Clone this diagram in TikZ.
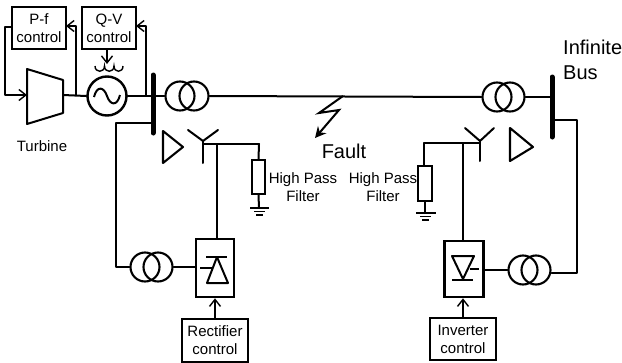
\documentclass[tikz,border=0pt]{standalone}
\usepackage{fontspec}
\setmainfont{Liberation Sans}
\usetikzlibrary{arrows.meta}
\tikzset{
  wire/.style={line width=2pt,line cap=round,line join=round},
  ctl/.style={line width=1.4pt,line join=round},
  bar/.style={line width=5pt,line cap=round},
  ctlbox/.style={draw,line width=2pt,fill=white,inner sep=0pt,align=center,font=\fontsize{15}{18}\selectfont},
  convbox/.style={draw,line width=2.6pt,fill=none,inner sep=0pt},
  winding/.style={circle,draw,line width=2.1pt,minimum size=29pt,inner sep=0pt},
  gen/.style={circle,draw,line width=2.4pt,minimum size=39pt,inner sep=0pt},
  res/.style={draw,line width=2pt,fill=white,inner sep=0pt},
  lab/.style={inner sep=0pt,align=center,font=\fontsize{15}{18}\selectfont},
  biglab/.style={inner sep=0pt,font=\fontsize{20}{25}\selectfont},
  barb/.style={-{Straight Barb[length=7pt,width=11pt,line width=1.4pt]}},
}
\begin{document}
\begin{tikzpicture}[x=1pt,y=-1pt]
\useasboundingbox (0,0) rectangle (622,362);
% control boxes
\node[ctlbox,minimum width=54pt,minimum height=42pt] (pf) at (39,28) {P-f\\control};
\node[ctlbox,minimum width=54pt,minimum height=42pt] (qv) at (109,28) {Q-V\\control};
\node[ctlbox,minimum width=66pt,minimum height=43pt] (rc) at (215,340) {Rectifier\\control};
\node[ctlbox,minimum width=66pt,minimum height=42pt] (ic) at (463,339) {Inverter\\control};
% buses
\coordinate (b1t) at (153,75); \coordinate (b1b) at (153,133);
\coordinate (b2t) at (552,77); \coordinate (b2b) at (552,137);
\draw[bar] (b1t) -- (b1b);
\draw[bar] (b2t) -- (b2b);
% turbine
\coordinate (t1) at (27,69); \coordinate (t2) at (63,80); \coordinate (t3) at (63,113); \coordinate (t4) at (27,124);
\draw[line width=2pt,line join=round] (t1) -- (t2) -- (t3) -- (t4) -- cycle;
\coordinate (tin) at (27,95); \coordinate (tout) at (63,95);
% generator
\node[gen] (g) at (107,96) {};
\draw[line width=2pt] (94,97) .. controls (97,85) and (104,87) .. (107,96) .. controls (110,105) and (117,107) .. (120,95);
% transformers
\node[winding] (tr1a) at (180,96) {};
\node[winding] (tr1b) at (194,96) {};
\node[winding] (tr2a) at (497,97) {};
\node[winding] (tr2b) at (510,97) {};
\node[winding] (tr3a) at (145,267) {};
\node[winding] (tr3b) at (158,267) {};
\node[winding] (tr4a) at (523,270) {};
\node[winding] (tr4b) at (536,270) {};
% main wires
\draw[wire] (tout) -- (g.west);
\draw[wire] (g.east) -- (153,96);
\draw[wire] (153,96) -- (tr1a.west);
\draw[wire] (tr1b.east) -- (tr2a.west);
\draw[wire] (tr2b.east) -- (552,97);
% control loops
\coordinate (j1) at (76,95); \coordinate (j2) at (146,96);
\coordinate (c1) at (5,27); \coordinate (c2) at (5,95);
\draw[ctl,barb] (pf.west |- c1) -- (c1) -- (c2) -- (tin);
\draw[ctl,barb] (j1) -- (76,26) -- (66,26);
\draw[ctl,barb] (j2) -- (146,26) -- (136,26);
\draw[ctl,barb] (qv.south -| g.north) -- (107,64);
% exciter coil
\coordinate (k0) at (95,66); \coordinate (k1) at (104.5,66); \coordinate (k2) at (114,66); \coordinate (k3) at (123,66);
\draw[line width=1.4pt] (k0) .. controls (95,73) and (104.5,73) .. (k1) .. controls (104.5,73) and (114,73) .. (k2) .. controls (114,73) and (123,73) .. (k3);
% converters
\node[convbox,minimum width=38pt,minimum height=58pt] (rect) at (215,268) {};
\node[convbox,minimum width=39pt,minimum height=56pt] (inv) at (464,269) {};
\draw[ctl,barb] (rc.north) -- (rect.south -| rc.north);
\draw[ctl,barb] (ic.north) -- (inv.south -| ic.north);
% rectifier symbol
\draw[line width=2pt,line join=round] (217,257) -- (207,283) -- (228,283) -- cycle;
\draw[line width=2pt] (206,257) -- (227,257);
\draw[line width=1.8pt] (200,268) -- (212,268);
% inverter symbol
\draw[line width=2pt,line join=round] (452,256) -- (474,256) -- (463,279) -- cycle;
\draw[line width=2pt] (452,280) -- (473,280);
\draw[line width=1.8pt] (470,269) -- (479,269);
% left AC side
\draw[wire] (b1b |- 0,123) -- (116,123) -- (116,267) -- (tr3a.west);
\draw[wire] (tr3b.east) -- (rect.west |- tr3b.east);
% right AC side
\draw[wire] (552,120) -- (577,120) -- (577,273) -- (tr4b.east |- 0,273);
\draw[wire] (inv.east |- tr4a.west) -- (tr4a.west);
% left harmonic filter
\coordinate (yl) at (203,141);
\draw[wire] (yl) -- (203,163);
\draw[wire] (188,130) -- (yl) -- (218,130);
\coordinate (jl) at (217,144);
\draw[wire] (203,144) -- (259,144);
\draw[wire] (jl) -- (rect.north -| jl);
\node[res,minimum width=13pt,minimum height=34pt] (rl) at (258.5,177) {};
\draw[wire] (259,144) -- (rl.north);
\coordinate (gl) at (259,208);
\draw[wire] (rl.south) -- (gl);
\draw[line width=1.8pt] (250,208) -- (269,208);
\draw[line width=1.8pt] (254,211.5) -- (265,211.5);
\draw[line width=1.8pt] (256,215) -- (263,215);
\draw[line width=2.1pt,line join=round] (163,131) -- (183,147) -- (163,163) -- cycle;
% right harmonic filter
\coordinate (yr) at (480,141);
\draw[wire] (yr) -- (480,161);
\draw[wire] (465,128) -- (yr) -- (494,128);
\coordinate (jr) at (463,143);
\draw[wire] (480,143) -- (424,143);
\draw[wire] (jr) -- (inv.north -| jr);
\node[res,minimum width=14pt,minimum height=35pt] (rr) at (425,183.5) {};
\draw[wire] (424,143) -- (rr.north -| 424,0);
\coordinate (gr) at (425,213);
\draw[wire] (rr.south) -- (gr);
\draw[line width=1.8pt] (416,213) -- (436,213);
\draw[line width=1.8pt] (420,216.5) -- (431,216.5);
\draw[line width=1.8pt] (422,220) -- (429,220);
\draw[line width=2.1pt,line join=round] (510,128) -- (533,147) -- (510,161) -- cycle;
% fault
\coordinate (f0) at (343,96);
\draw[line width=2pt,line join=miter,-{Stealth[length=11pt,width=11pt]}] (f0) -- (319,113) -- (339,110) -- (315,138);
% labels
\node[lab] (lt) at (42,146) {Turbine};
\node[biglab] (lf) at (344,151) {Fault};
\node[lab,anchor=north] (hl) at (303,172) {High Pass\\Filter};
\node[lab,anchor=north] (hr) at (383,172) {High Pass\\Filter};
\node[biglab,anchor=west,align=left] (ib) at (563,59.5) {Infinite\\Bus};
\end{tikzpicture}
\end{document}
